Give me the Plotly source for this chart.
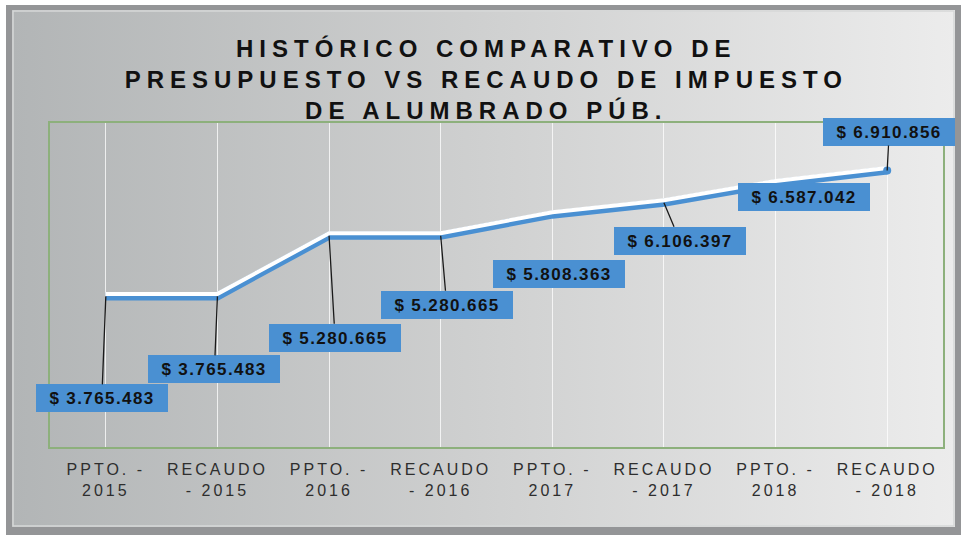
import base64
import plotly.graph_objects as go

# ---- data ----
categories = ["PPTO. - 2015", "RECAUDO - 2015", "PPTO. - 2016", "RECAUDO - 2016",
              "PPTO. - 2017", "RECAUDO - 2017", "PPTO. - 2018", "RECAUDO - 2018"]
tick_labels = ["PPTO. -<br>2015", "RECAUDO<br>- 2015", "PPTO. -<br>2016", "RECAUDO<br>- 2016",
               "PPTO. -<br>2017", "RECAUDO<br>- 2017", "PPTO. -<br>2018", "RECAUDO<br>- 2018"]
values = [3765483, 3765483, 5280665, 5280665, 5808363, 6106397, 6587042, 6910856]
title_text = "HISTÓRICO COMPARATIVO DE<br>PRESUPUESTO VS RECAUDO DE IMPUESTO<br>DE ALUMBRADO PÚB."

# label offsets (pixels, label centre relative to point)
label_dx = [-4, -3, 6, 6, 7, 16, 28, 2]
label_dy = [102, 73, 102, 69, 59, 38, 13, -39]

W, H = 961, 535
ML, MR, MT, MB = 50, 18, 123, 88
PW, PH = W - ML - MR, H - MT - MB
YMAX = 8.1e6

BLUE = "#4a90d2"

def fmt(v):
    return "$ " + f"{v:,}".replace(",", ".")

# background svg (frame + gradient)
svg = f"""<svg xmlns='http://www.w3.org/2000/svg' width='{W}' height='{H}' viewBox='0 0 {W} {H}' preserveAspectRatio='none'>
<defs><linearGradient id='g' x1='0' x2='1' y1='0' y2='0'>
<stop offset='0' stop-color='#b2b5b6'/><stop offset='0.5' stop-color='#cfd0d0'/><stop offset='1' stop-color='#ececec'/></linearGradient></defs>
<rect x='0' y='0' width='{W}' height='{H}' fill='#ffffff'/>
<rect x='6' y='5' width='{W-6}' height='{H-5}' fill='#949597'/>
<rect x='12' y='10' width='{W-12-6}' height='{H-10-8}' fill='url(#g)'/>
<rect x='13' y='11' width='{W-12-6-2}' height='{H-10-8-2}' fill='none' stroke='#d6d8d8' stroke-width='1.5'/>
</svg>"""
src = "data:image/svg+xml;base64," + base64.b64encode(svg.encode()).decode()

px_to_data = YMAX / PH
white_vals = [v + 2.5 * px_to_data for v in values]

fig = go.Figure()
fig.add_trace(go.Scatter(x=categories, y=values, mode="lines",
                         line=dict(color=BLUE, width=8), hoverinfo="skip"))
fig.add_trace(go.Scatter(x=categories, y=white_vals, mode="lines",
                         line=dict(color="#ffffff", width=4), hoverinfo="skip"))
fig.add_trace(go.Scatter(x=[categories[-1]], y=[values[-1]], mode="markers",
                         marker=dict(color=BLUE, size=8), hoverinfo="skip"))

n = len(categories)
for i, (v, dx, dy) in enumerate(zip(values, label_dx, label_dy)):
    fig.add_annotation(x=(i + 0.5) / n, y=v / YMAX, xref="paper", yref="paper",
                       text="<b>" + fmt(v) + "</b>",
                       showarrow=True, ax=dx, ay=dy, arrowhead=0, arrowwidth=1.3,
                       arrowcolor="#1a1a1a", standoff=0, startstandoff=0,
                       bgcolor=BLUE, borderwidth=0, borderpad=3, width=126, height=22,
                       font=dict(family="Liberation Sans, Arial", size=17, color="#111111"))

fig.add_layout_image(dict(source=src, xref="paper", yref="paper",
                          x=-ML / PW, y=1 + MT / PH, sizex=W / PW, sizey=H / PH,
                          xanchor="left", yanchor="top", sizing="stretch", layer="below"))

fig.update_layout(
    width=W, height=H,
    margin=dict(l=ML, r=MR, t=MT, b=MB),
    paper_bgcolor="#ffffff", plot_bgcolor="rgba(0,0,0,0)",
    showlegend=False,
    title=dict(text="<b>" + title_text + "</b>", x=0.506, xanchor="center",
               y=1 - 57 / H, yanchor="top",
               font=dict(family="Liberation Sans, Arial", size=24, color="#111111")),
    xaxis=dict(type="category", range=[-0.5, 7.5], tickmode="array",
               tickvals=categories, ticktext=tick_labels,
               showgrid=True, gridcolor="rgba(255,255,255,0.75)", gridwidth=1,
               showline=True, mirror=True, linecolor="#8db07c", linewidth=2,
               ticks="", ticklen=0, ticklabelstandoff=7,
               tickfont=dict(family="Liberation Sans, Arial", size=16, color="#2e2e2e"),
               fixedrange=True),
    yaxis=dict(range=[0, YMAX], showgrid=False, zeroline=False, showticklabels=False,
               showline=True, mirror=True, linecolor="#8db07c", linewidth=2,
               fixedrange=True),
)

post = """
document.body.style.margin = '0';
document.body.style.overflow = 'hidden';
var gd = document.getElementById('{plot_id}');
function sp(){
  gd.querySelectorAll('.gtitle').forEach(function(e){e.style.letterSpacing='6px';});
  gd.querySelectorAll('.xtick text').forEach(function(e){e.style.letterSpacing='3px';});
  gd.querySelectorAll('.annotation-text').forEach(function(e){e.style.letterSpacing='1.4px';});
}
sp();
gd.on('plotly_afterplot', sp);
"""

fig.write_html("out.html", post_script=post, config={"displayModeBar": False})
